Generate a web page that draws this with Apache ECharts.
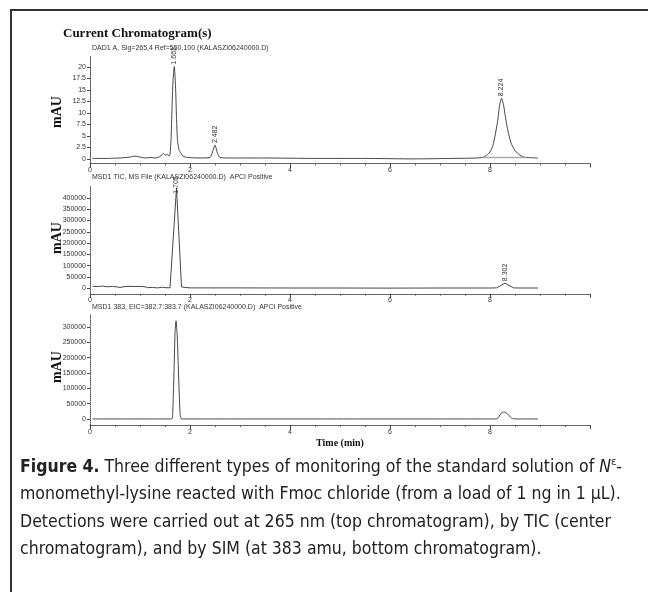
<!DOCTYPE html>
<html>
<head>
  <meta charset="utf-8" />
  <title>Figure 4</title>
  <script src="https://cdn.jsdelivr.net/npm/echarts@6/dist/echarts.min.js"></script>
  <style>
    html, body { margin: 0; padding: 0; background: #fff; }
    #main { width: 648px; height: 592px; }
  </style>
</head>
<body>
  <div id="main"></div>
  <script type="text/javascript">
    // retention time (min), signal
    var dadTrace = [
      [0.05, 0.1], [0.3, 0.1], [0.6, 0.2], [0.8, 0.4], [0.9, 0.6], [1.0, 0.4], [1.1, 0.2],
      [1.2, 0.3], [1.3, 0.2], [1.4, 0.5], [1.47, 1.2], [1.51, 0.8], [1.55, 1.0], [1.58, 0.6],
      [1.6, 1.0], [1.62, 4], [1.64, 11], [1.66, 17], [1.686, 20.1], [1.71, 16], [1.73, 9],
      [1.75, 4], [1.78, 2], [1.82, 1.2], [1.86, 0.6], [1.95, 0.3], [2.2, 0.2], [2.4, 0.3],
      [2.45, 1.5], [2.5, 3.0], [2.55, 1.2], [2.6, 0.3], [2.8, 0.2], [3.5, 0.2], [4.5, 0.1],
      [5.5, 0.1], [6.5, 0.0], [7.2, 0.1], [7.6, 0.15], [7.8, 0.25], [7.9, 0.5], [8.0, 1.5],
      [8.06, 3], [8.1, 5], [8.15, 8], [8.19, 11.5], [8.23, 13.2], [8.27, 11.8], [8.31, 9],
      [8.36, 6], [8.42, 3.5], [8.5, 1.8], [8.6, 0.8], [8.7, 0.35], [8.96, 0.2]
    ];
    var dadIntegration = [[7.87, 0.3], [8.73, 0.3]];
    var dadPeaks = [['1.663', 1.686, 20.1], ['2.482', 2.5, 3.0], ['8.224', 8.23, 13.2]];

    var ticTrace = [
      [0.05, 8000], [0.15, 7000], [0.25, 9000], [0.35, 6000], [0.45, 7500], [0.55, 5000],
      [0.6, 3000], [0.7, 7000], [0.8, 8000], [0.9, 7000], [1.0, 7500], [1.1, 6000],
      [1.15, 2000], [1.25, 3000], [1.35, 1000], [1.45, 4000], [1.5, 2000], [1.6, 1500],
      [1.63, 5000], [1.73, 445000], [1.83, 5000], [1.86, 1500], [2.0, 1000], [3.0, 1000],
      [4.0, 500], [5.0, 500], [6.0, 0], [7.0, 500], [8.0, 500], [8.13, 1000], [8.3, 22000],
      [8.47, 1000], [8.6, 500], [8.96, 500]
    ];
    var ticPeaks = [['1.705', 1.73, 410000], ['8.302', 8.3, 22000]];

    var eicTrace = [
      [0.05, 0], [0.5, 0], [1.0, 0], [1.5, 0], [1.63, 0], [1.65, 3000], [1.68, 150000],
      [1.7, 280000], [1.72, 320000], [1.745, 270000], [1.77, 150000], [1.8, 20000],
      [1.83, 0], [3.0, 0], [5.0, 0], [7.0, 0], [8.1, 0], [8.15, 1000], [8.22, 18000],
      [8.28, 23000], [8.35, 17000], [8.42, 4000], [8.47, 500], [8.6, 0], [8.96, 0]
    ];

    var dadTicks = [0, 2.5, 5, 7.5, 10, 12.5, 15, 17.5, 20];
    var ticTicks = [0, 50000, 100000, 150000, 200000, 250000, 300000, 350000, 400000];
    var eicTicks = [0, 50000, 100000, 150000, 200000, 250000, 300000];

    var panelTitles = [
      'DAD1 A, Sig=265,4 Ref=550,100 (KALASZI06240000.D)',
      'MSD1 TIC, MS File (KALASZI06240000.D)  APCI Positive',
      'MSD1 383, EIC=382.7:383.7 (KALASZI06240000.D)  APCI Positive'
    ];

    var chart = echarts.init(document.getElementById('main'));
    var ink = '#333';
    var serif = '"Liberation Serif", "DejaVu Serif", serif';
    var sans = '"Liberation Sans", Arial, sans-serif';
    var narrow = '"Liberation Sans Narrow", "DejaVu Sans Condensed", sans-serif';

    var grids = [
      { left: 90, right: 58, top: 55.5, height: 108 },
      { left: 90, right: 58, top: 186.75, height: 107 },
      { left: 90, right: 58, top: 314.7, height: 110.4 }
    ];

    function xAxisFor(i) {
      return {
        type: 'value', gridIndex: i, min: 0, max: 10, interval: 2,
        axisLine: { onZero: false, lineStyle: { color: '#666', width: 1 } },
        axisTick: { length: 4, lineStyle: { color: '#444' } },
        minorTick: { show: true, splitNumber: 4, length: 2, lineStyle: { color: '#666' } },
        axisLabel: {
          fontSize: 7, color: ink, fontFamily: sans, margin: 3,
          formatter: function (v) { return v >= 10 ? '' : String(v); }
        },
        splitLine: { show: false }
      };
    }

    function yAxisFor(i, min, max, ticks) {
      return {
        type: 'value', gridIndex: i, min: min, max: max,
        axisLine: { show: true, lineStyle: { color: '#555', type: 'dotted', width: 1 } },
        axisTick: { show: true, length: 3, customValues: ticks, lineStyle: { color: '#444' } },
        axisLabel: {
          fontSize: 7, color: ink, fontFamily: sans, margin: 4, customValues: ticks,
          formatter: function (v) { return String(v); }
        },
        splitLine: { show: false }
      };
    }

    function peakMarks(list) {
      return {
        symbol: 'circle', symbolSize: 0, silent: true,
        label: {
          show: true, position: 'top', distance: 2, rotate: 90,
          align: 'left', verticalAlign: 'middle',
          fontSize: 7, color: ink, fontFamily: sans,
          formatter: function (p) { return p.name; }
        },
        data: list.map(function (p) { return { name: p[0], coord: [p[1], p[2]] }; })
      };
    }

    function traceSeries(i, data, marks, smooth) {
      var s = {
        type: 'line', xAxisIndex: i, yAxisIndex: i, data: data,
        showSymbol: false, smooth: smooth, animation: false,
        lineStyle: { color: ink, width: 0.9 }
      };
      if (marks) s.markPoint = peakMarks(marks);
      return s;
    }

    var mauLabel = function (y) {
      return {
        type: 'text', x: 57, y: y, rotation: Math.PI / 2,
        style: { text: 'mAU', font: 'bold 14px ' + serif, fill: '#111', align: 'center', verticalAlign: 'middle' }
      };
    };
    var subTitle = function (y, text) {
      return {
        type: 'text', left: 92, top: y,
        style: { text: text, font: '7px ' + sans, fill: ink }
      };
    };

    var captionRich = {
      b: { fontFamily: narrow, fontWeight: 'bold', fontSize: 17.5, fill: '#222' },
      i: { fontFamily: narrow, fontStyle: 'italic', fontSize: 17.5, fill: '#222' },
      sup: { fontFamily: narrow, fontSize: 11, fill: '#222', padding: [0, 0, 9, 0] }
    };
    var captionLines = [
      '{b|Figure 4.} Three different types of monitoring of the standard solution of {i|N}{sup|ε}-',
      'monomethyl-lysine reacted with Fmoc chloride (from a load of 1 ng in 1 µL).',
      'Detections were carried out at 265 nm (top chromatogram), by TIC (center',
      'chromatogram), and by SIM (at 383 amu, bottom chromatogram).'
    ];

    var graphics = [
      { type: 'rect', shape: { x: 11, y: 10, width: 700, height: 700 }, style: { fill: 'none', stroke: '#333', lineWidth: 2 } },
      { type: 'text', left: 63, top: 27, style: { text: 'Current Chromatogram(s)', font: 'bold 13px ' + serif, fill: '#111' } },
      subTitle(45, panelTitles[0]),
      subTitle(174, panelTitles[1]),
      subTitle(304, panelTitles[2]),
      mauLabel(112), mauLabel(238), mauLabel(367),
      { type: 'text', x: 340, y: 443, style: { text: 'Time (min)', font: 'bold 10px ' + serif, fill: '#111', align: 'center', verticalAlign: 'middle' } }
    ];
    captionLines.forEach(function (line, k) {
      graphics.push({
        type: 'text', x: 20, y: 467 + k * 27.5,
        style: {
          text: line, rich: captionRich, fontFamily: narrow, fontSize: 17.5, fill: '#222',
          verticalAlign: 'middle'
        }
      });
    });

    var option = {
      backgroundColor: '#fff',
      animation: false,
      grid: grids,
      xAxis: [xAxisFor(0), xAxisFor(1), xAxisFor(2)],
      yAxis: [
        yAxisFor(0, -1, 22.5, dadTicks),
        yAxisFor(1, -25000, 450000, ticTicks),
        yAxisFor(2, -20000, 340000, eicTicks)
      ],
      series: [
        traceSeries(0, dadTrace, dadPeaks, 0.2),
        {
          type: 'line', xAxisIndex: 0, yAxisIndex: 0, data: dadIntegration,
          showSymbol: false, lineStyle: { color: '#aaa', width: 1.5 }
        },
        traceSeries(1, ticTrace, ticPeaks, false),
        traceSeries(2, eicTrace, null, 0.15)
      ],
      graphic: graphics
    };
    chart.setOption(option);

    window.onresize = function () {
      chart.resize();
    };
  </script>
</body>
</html>
